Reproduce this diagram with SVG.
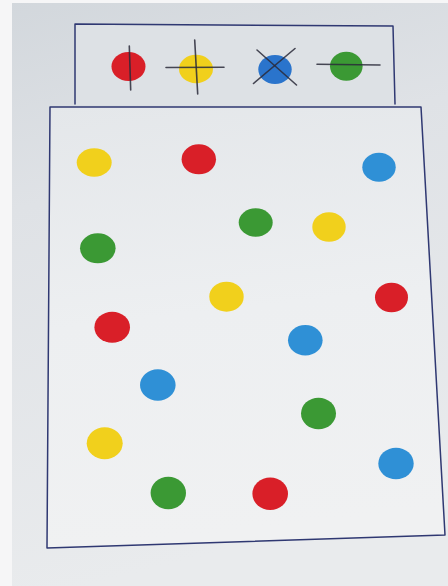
<svg xmlns="http://www.w3.org/2000/svg" width="448" height="586" viewBox="0 0 448 586">
<defs>
<linearGradient id="bg" x1="0" y1="0" x2="0.2" y2="1">
<stop offset="0" stop-color="#d2d7dc"/>
<stop offset="0.35" stop-color="#dfe2e6"/>
<stop offset="1" stop-color="#e9ebed"/>
</linearGradient>
<linearGradient id="paper" x1="0" y1="0" x2="0.1" y2="1">
<stop offset="0" stop-color="#e4e7ea"/>
<stop offset="0.5" stop-color="#edeff1"/>
<stop offset="1" stop-color="#f0f1f2"/>
</linearGradient>
<style>
.pen{fill:none;stroke:#2f3872;stroke-width:1.5;stroke-linecap:round;stroke-linejoin:round}
.mark{fill:none;stroke:#2a2a3a;stroke-width:1.6;stroke-linecap:round;opacity:0.85}
.r{fill:#d91f28}
.y{fill:#f1d01c}
.b{fill:#2f90d6}
.bd{fill:#2a74cc}
.g{fill:#3b9934}
</style>
</defs>
<rect width="448" height="586" fill="url(#bg)"/>
<rect x="0" y="0" width="12" height="586" fill="#f6f6f7"/>
<rect x="0" y="0" width="448" height="3" fill="#f6f6f7"/>
<polygon points="75,25 393,26 395,105 75,105" fill="#dde1e5"/>
<polygon points="50,107 421,107 445,535 47,548" fill="url(#paper)"/>
<g id="frames">
<path class="pen" d="M75,104 L75,24 L393,26 L395,104"/>
<path class="pen" d="M50,107 L421,107 L445,535 L47,548 Z"/>
</g>
<g id="legend">
<g id="legend-red"><ellipse class="r" cx="128.5" cy="66.5" rx="17" ry="14.5"/><line class="mark" x1="129.3" y1="46" x2="130.7" y2="90"/></g>
<g id="legend-yellow"><ellipse class="y" cx="196" cy="69" rx="17" ry="14.2"/><line class="mark" x1="166" y1="67.5" x2="224" y2="67.3"/><line class="mark" x1="194.7" y1="40" x2="197.7" y2="94"/></g>
<g id="legend-blue"><ellipse class="bd" cx="275" cy="69.5" rx="16.7" ry="14.5"/><line class="mark" x1="257" y1="50" x2="296.5" y2="85"/><line class="mark" x1="295" y1="48.5" x2="253.5" y2="83.5"/></g>
<g id="legend-green"><ellipse class="g" cx="346.3" cy="66.2" rx="16.3" ry="14.5"/><line class="mark" x1="317" y1="64.3" x2="380" y2="65"/></g>
</g>
<g id="dots">
<g id="dot1"><ellipse class="y" cx="94.2" cy="162.5" rx="17.5" ry="14.3"/></g>
<g id="dot2"><ellipse class="r" cx="198.8" cy="159.3" rx="17.2" ry="15"/></g>
<g id="dot3"><ellipse class="b" cx="379" cy="167.2" rx="16.7" ry="14.5"/></g>
<g id="dot4"><ellipse class="g" cx="255.7" cy="222.5" rx="17" ry="14.3"/></g>
<g id="dot5"><ellipse class="y" cx="329" cy="227" rx="16.7" ry="14.7"/></g>
<g id="dot6"><ellipse class="g" cx="97.8" cy="248.3" rx="17.8" ry="15"/></g>
<g id="dot7"><ellipse class="y" cx="226.5" cy="296.7" rx="17.2" ry="15"/></g>
<g id="dot8"><ellipse class="r" cx="391.5" cy="297.5" rx="16.5" ry="14.8"/></g>
<g id="dot9"><ellipse class="r" cx="112.2" cy="327.2" rx="17.8" ry="15.5"/></g>
<g id="dot10"><ellipse class="b" cx="305.3" cy="340.3" rx="17.3" ry="15.3"/></g>
<g id="dot11"><ellipse class="b" cx="157.8" cy="385" rx="17.8" ry="15.7"/></g>
<g id="dot12"><ellipse class="g" cx="318.5" cy="413.5" rx="17.5" ry="15.8"/></g>
<g id="dot13"><ellipse class="y" cx="104.7" cy="443.3" rx="18" ry="16"/></g>
<g id="dot14"><ellipse class="b" cx="396" cy="463.5" rx="17.7" ry="15.8"/></g>
<g id="dot15"><ellipse class="g" cx="168.3" cy="493" rx="17.7" ry="16.3"/></g>
<g id="dot16"><ellipse class="r" cx="270.2" cy="493.7" rx="17.8" ry="16.3"/></g>
</g>
</svg>
